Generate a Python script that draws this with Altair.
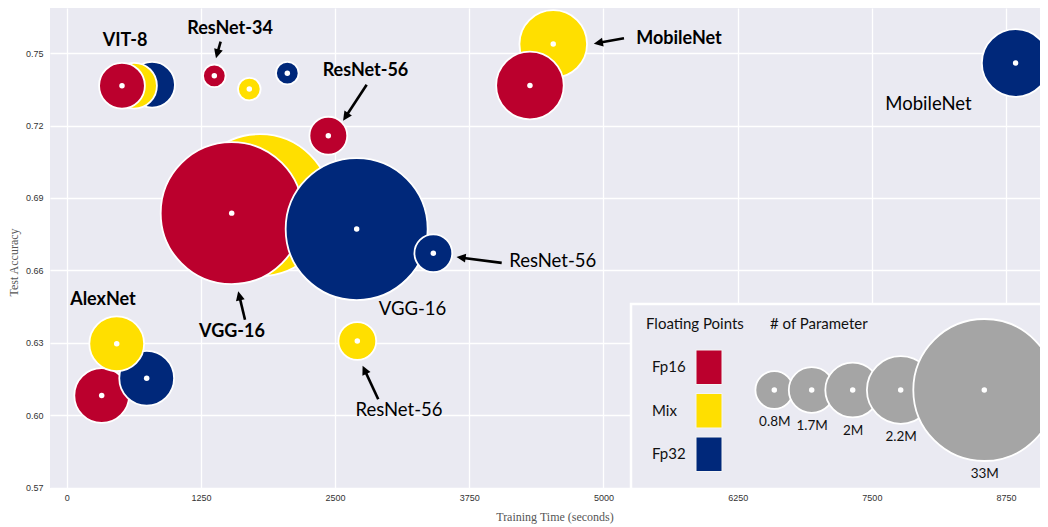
import math
import altair as alt
import pandas as pd

# ---------------- data ----------------
models = ["VIT-8"] * 3 + ["ResNet-34"] * 3 + ["VGG-16"] * 3 + ["ResNet-56"] * 3 + ["AlexNet"] * 3 + ["MobileNet"] * 3
precision = ["Fp32", "Mix", "Fp16",
             "Fp16", "Mix", "Fp32",
             "Mix", "Fp16", "Fp32",
             "Fp16", "Mix", "Fp32",
             "Fp16", "Fp32", "Mix",
             "Mix", "Fp16", "Fp32"]
train_time = [795, 627, 515,
              1375, 1701, 2055,
              1800, 1537, 2701,
              2437, 2707, 3415,
              326, 745, 466,
              4532, 4315, 8839]
test_acc = [0.7369, 0.7365, 0.7365,
            0.7406, 0.7351, 0.7417,
            0.6870, 0.6837, 0.6771,
            0.7158, 0.6307, 0.6671,
            0.6081, 0.6153, 0.6296,
            0.7538, 0.7366, 0.7459]

model_names = ["VIT-8", "ResNet-34", "VGG-16", "ResNet-56", "AlexNet", "MobileNet"]
model_params_m = [1.7, 0.46, 33.0, 0.8, 2.0, 2.2]

precision_levels = ["Fp16", "Mix", "Fp32"]
precision_colors = ["#BB002D", "#FFDF00", "#00287A"]

x_ticks = [0, 1250, 2500, 3750, 5000, 6250, 7500, 8750]
y_ticks = [0.57, 0.60, 0.63, 0.66, 0.69, 0.72, 0.75]

size_legend_values = [0.8, 1.7, 2.0, 2.2, 33.0]
size_legend_labels = ["0.8M", "1.7M", "2M", "2.2M", "33M"]
legend_titles = ["Floating Points", "# of Parameter"]

# annotations (in data coordinates)
ann_text = ["VIT-8", "ResNet-34", "ResNet-56", "MobileNet", "MobileNet",
            "ResNet-56", "VGG-16", "VGG-16", "AlexNet", "ResNet-56"]
ann_bold = [True, True, True, True, False, False, False, True, True, False]
ann_x = [543, 1521, 2783, 5703, 8027, 4527, 3221, 1540, 338, 3095]
ann_y = [0.7552, 0.7600, 0.7428, 0.7557, 0.7288, 0.6640, 0.6440, 0.6343, 0.6475, 0.6022]

arrow_x0 = [1434, 2794, 5191, 4052, 1661, 2902]
arrow_y0 = [0.7548, 0.7369, 0.7562, 0.6631, 0.6395, 0.6066]
arrow_x1 = [1391, 2576, 4912, 3633, 1598, 2757]
arrow_y1 = [0.7480, 0.7221, 0.7539, 0.6655, 0.6512, 0.6204]

# ---------------- layout / style ----------------
W, H = 990, 480
X_DOMAIN = [-155.5, 9066]
Y_DOMAIN = [0.5698, 0.7687]
SIZE_DOMAIN = [0.46, 0.8, 1.7, 2.0, 2.2, 33.0]
SIZE_RANGE = [511, 1429, 2098, 3003, 4570, 20164]
BG = "#EAEAF2"
FONT = "Lato"

KX = W / (X_DOMAIN[1] - X_DOMAIN[0])
KY = H / (Y_DOMAIN[1] - Y_DOMAIN[0])

df = pd.DataFrame({"model": models, "precision": precision, "time": train_time, "acc": test_acc})
df["params"] = df["model"].map(dict(zip(model_names, model_params_m)))
df["rank"] = df.groupby("model").cumcount()

x_axis = alt.Axis(values=x_ticks, format="d", title="Training Time (seconds)",
                  grid=True, gridColor="white", gridWidth=1.3, domain=False, ticks=False,
                  labelFont="Liberation Sans", labelFontSize=9, labelColor="#333333",
                  labelPadding=5, labelFlush=False, labelOverlap=False,
                  titleFont="Liberation Serif", titleFontSize=12, titleFontWeight="normal",
                  titleColor="#555555", titleX=504.5, titleY=32, titleAlign="center",
                  titleBaseline="alphabetic")
y_axis = alt.Axis(values=y_ticks, format=".2f", title="Test Accuracy",
                  grid=True, gridColor="white", gridWidth=1.3, domain=False, ticks=False,
                  labelFont="Liberation Sans", labelFontSize=9, labelColor="#333333",
                  labelPadding=7, labelFlush=False, labelOverlap=False,
                  titleFont="Liberation Serif", titleFontSize=12, titleFontWeight="normal",
                  titleColor="#555555", titleX=-32.5, titleY=254, titleAngle=270,
                  titleAlign="center", titleBaseline="alphabetic")

x_scale = alt.Scale(domain=X_DOMAIN, nice=False, zero=False)
y_scale = alt.Scale(domain=Y_DOMAIN, nice=False, zero=False)
X = alt.X("time:Q", scale=x_scale, axis=x_axis)
Y = alt.Y("acc:Q", scale=y_scale, axis=y_axis)
size_scale = alt.Scale(type="linear", domain=SIZE_DOMAIN, range=SIZE_RANGE, zero=False)
color_scale = alt.Scale(domain=precision_levels, range=precision_colors)
COLOR = alt.Color("precision:N", scale=color_scale, legend=None)
SIZE = alt.Size("params:Q", scale=size_scale, legend=None)
DOT = 30

layers = []
base = alt.Chart(df)
for r in range(3):
    sub = base.transform_filter(alt.datum.rank == r)
    layers.append(sub.mark_circle(opacity=1, stroke="white", strokeWidth=1.8)
                  .encode(x=X, y=Y, color=COLOR, size=SIZE))
    layers.append(sub.mark_circle(opacity=1, color="white", size=DOT)
                  .encode(x=X, y=Y))

# arrows
HEAD = 5.0
rows = []
for x0, y0, x1, y1 in zip(arrow_x0, arrow_y0, arrow_x1, arrow_y1):
    dxp = (x1 - x0) * KX
    dyp = -(y1 - y0) * KY
    L = math.hypot(dxp, dyp)
    ux, uy = dxp / L, dyp / L
    cx = x1 - ux * HEAD / KX
    cy = y1 + uy * HEAD / KY
    ang = math.degrees(math.atan2(ux, -uy)) % 360
    rows.append({"time": x0, "acc": y0, "time2": cx, "acc2": cy, "hx": cx, "hy": cy, "angle": ang})
arr = pd.DataFrame(rows)
layers.append(alt.Chart(arr).mark_rule(color="black", strokeWidth=2.6)
              .encode(x=X, y=Y, x2="time2:Q", y2="acc2:Q"))
heads = arr[["hx", "hy", "angle"]].rename(columns={"hx": "time", "hy": "acc"})
layers.append(alt.Chart(heads).mark_point(shape="M0,-1L0.85,0.75L-0.85,0.75Z", filled=True,
                                          opacity=1, color="black", size=110)
              .encode(x=X, y=Y, angle=alt.Angle("angle:Q", scale=None)))

# annotation texts
ann = pd.DataFrame({"label": ann_text, "bold": ann_bold, "time": ann_x, "acc": ann_y})
layers.append(alt.Chart(ann[ann["bold"]]).mark_text(font=FONT, fontSize=18, fontWeight="bold",
                                                    color="black", align="center", baseline="middle")
              .encode(x=X, y=Y, text="label:N"))
layers.append(alt.Chart(ann[~ann["bold"]]).mark_text(font=FONT, fontSize=18.5, fontWeight="normal",
                                                     color="black", align="center", baseline="middle")
              .encode(x=X, y=Y, text="label:N"))

# ---------------- custom legend box (pixel layout, plot-relative) ----------------
PL, PT = 50, 8  # plot origin on page
dummy = pd.DataFrame({"k": [0]})
layers.append(alt.Chart(dummy).mark_rect(fill=BG, stroke="white", strokeWidth=2.5)
              .encode(x=alt.value(631 - PL), x2=alt.value(1060 - PL),
                      y=alt.value(304 - PT), y2=alt.value(489 - PT)))

title_x = [646, 770]
for t, tx in zip(legend_titles, title_x):
    layers.append(alt.Chart(pd.DataFrame({"t": [t]})).mark_text(font=FONT, fontSize=15, color="#111111",
                                                               align="left", baseline="middle")
                  .encode(x=alt.value(tx - PL), y=alt.value(324 - PT), text="t:N"))

sw_top = [350, 393.5, 437]
for lvl, top in zip(precision_levels, sw_top):
    d = pd.DataFrame({"precision": [lvl]})
    layers.append(alt.Chart(d).mark_rect(stroke="#f4f4f4", strokeWidth=1)
                  .encode(x=alt.value(696 - PL), x2=alt.value(722 - PL),
                          y=alt.value(top - PT), y2=alt.value(top + 34.5 - PT), color=COLOR))
    layers.append(alt.Chart(d).mark_text(font=FONT, fontSize=15, color="#111111",
                                         align="left", baseline="middle")
                  .encode(x=alt.value(652 - PL), y=alt.value(top + 17 - PT), text="precision:N"))

circ_x = [774.3, 811.7, 852.7, 900.7, 984.3]
circ_y = 390
for v, lab, cxp in zip(size_legend_values, size_legend_labels, circ_x):
    d = pd.DataFrame({"params": [v], "lab": [lab]})
    r_edge = math.sqrt(SIZE_RANGE[SIZE_DOMAIN.index(v)]) / 2 + 0.9
    layers.append(alt.Chart(d).mark_circle(color="#A5A5A5", opacity=1, stroke="white", strokeWidth=1.8)
                  .encode(x=alt.value(cxp - PL), y=alt.value(circ_y - PT), size=SIZE))
    layers.append(alt.Chart(d).mark_circle(color="white", opacity=1, size=DOT)
                  .encode(x=alt.value(cxp - PL), y=alt.value(circ_y - PT)))
    layers.append(alt.Chart(d).mark_text(font=FONT, fontSize=13.5, color="#111111",
                                         align="center", baseline="middle")
                  .encode(x=alt.value(cxp + 0.5 - PL), y=alt.value(circ_y + r_edge + 12.5 - PT), text="lab:N"))

chart = (alt.layer(*layers)
         .properties(width=W, height=H, background="white",
                     autosize=alt.AutoSizeParams(type="none"),
                     padding={"left": 42, "top": 0, "right": 0, "bottom": 36})
         .configure_view(fill=BG, strokeWidth=0))

chart.save("out.html", embed_options={"renderer": "svg", "actions": False})
